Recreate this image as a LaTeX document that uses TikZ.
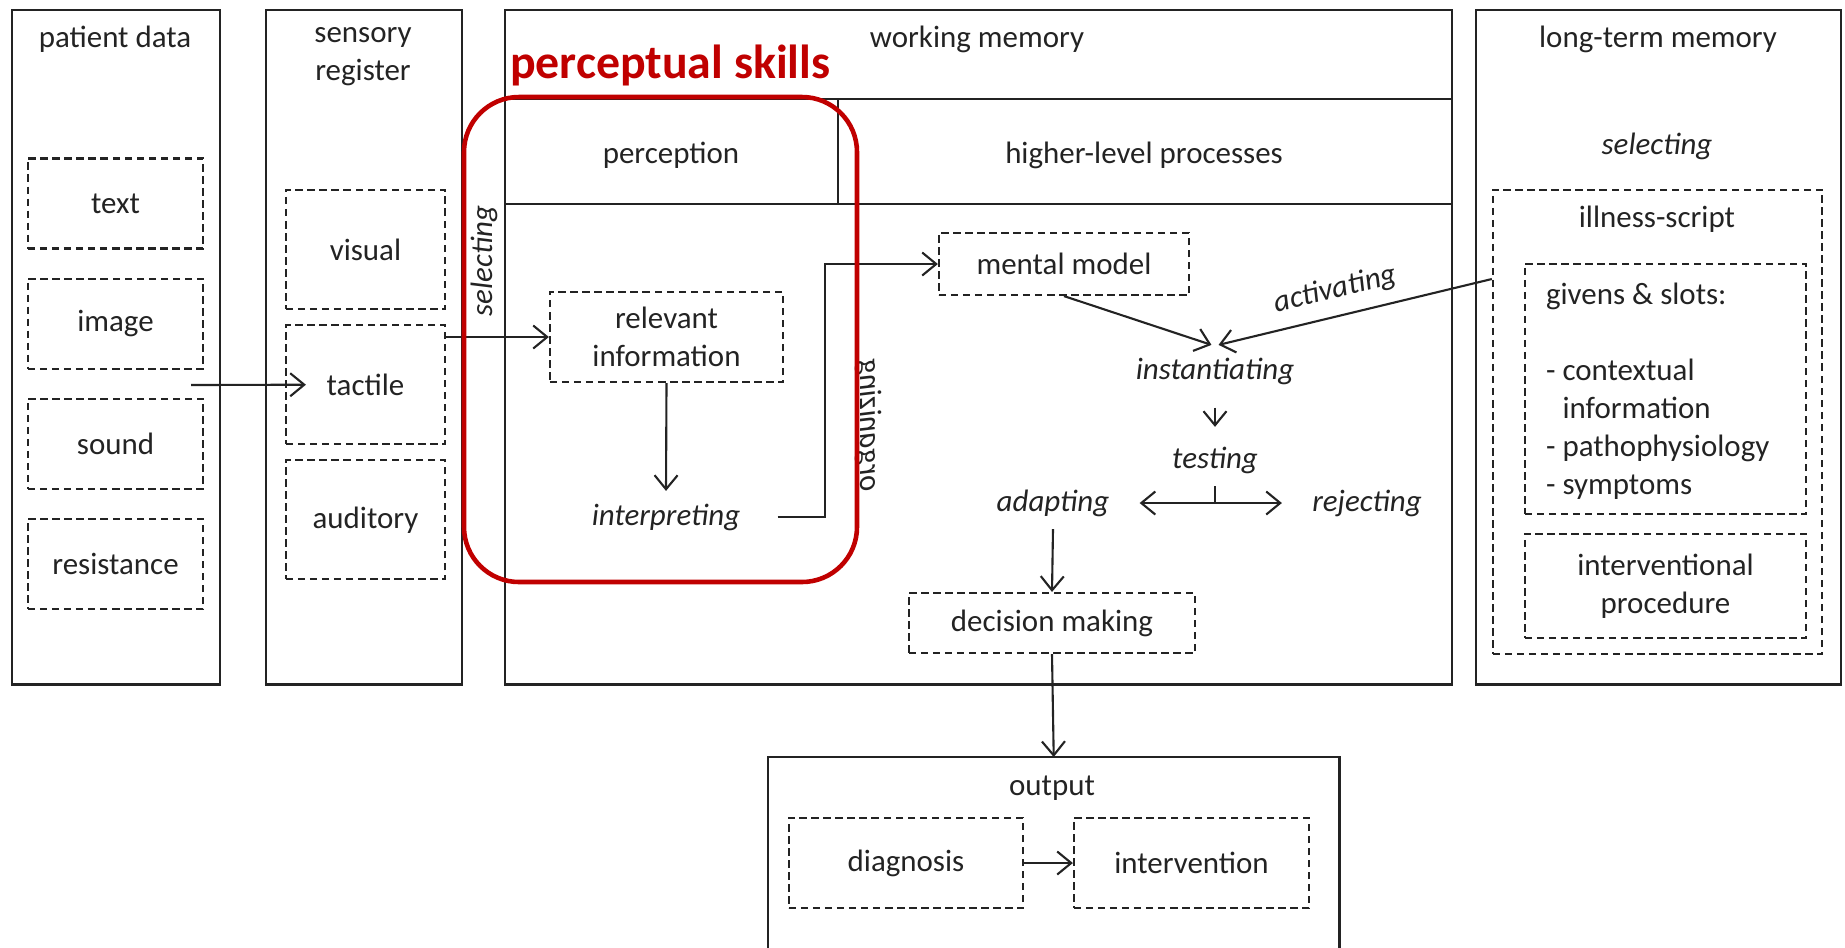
\documentclass[tikz,border=0pt]{standalone}
\usepackage{fontspec}
\setmainfont{Carlito}
\usetikzlibrary{positioning,arrows.meta}
\definecolor{ink}{RGB}{35,35,35}
\definecolor{skillred}{RGB}{192,0,0}

\begin{document}
\begin{tikzpicture}
  [x=0.01cm, y=-0.01cm, color=ink, line width=0.6pt,
    >={Straight Barb[length=1.4mm,width=2.3mm]},
    every node/.style={font=\fontsize{8.8}{10.8}\selectfont},
    panel/.style={draw, inner sep=0pt, anchor=north west, minimum height=6.74cm},
    dbox/.style={draw, dash pattern=on 0.75mm off 0.45mm, inner sep=0pt, align=center},
    pdbox/.style={dbox, minimum width=1.75cm, minimum height=0.9cm},
    srbox/.style={dbox, minimum width=1.59cm, minimum height=1.19cm},
    procword/.style={font=\fontsize{8.8}{10.8}\selectfont\itshape}]
  \useasboundingbox (0,0) rectangle (1845,947);

  \node[panel, minimum width=2.08cm] (pd) at (11,9) {};
  \node[panel, minimum width=1.96cm] (sr) at (265,9) {};
  \node[panel, minimum width=9.46cm] (wm) at (504,9) {};
  \node[panel, minimum width=3.65cm] (ltm) at (1475,9) {};

  \node (pdtitle) at (115,39) {patient data};
  \node[align=center] (srtitle) at (363,57) {sensory\\register};
  \node (wmtitle) at (977,39) {working memory};
  \node (ltmtitle) at (1658,39) {long-term memory};

  \draw (wm.west |- 0,99) -- (wm.east |- 0,99);
  \draw (wm.west |- 0,204) -- (wm.east |- 0,204);
  \draw (838,99) -- (838,204);
  \node (perc) at (671,155) {perception};
  \node (hlp) at (1144,155) {higher-level processes};

  \node[pdbox] (txt) at (115.5,203.5) {text};
  \node[pdbox, below=2.8mm of txt] (img) {image};
  \node[pdbox, below=2.8mm of img] (snd) {sound};
  \node[pdbox, below=2.8mm of snd] (res) {resistance};

  \node[srbox] (vis) at (365.5,249.5) {visual};
  \node[srbox, below=1.4mm of vis] (tac) {tactile};
  \node[srbox, below=1.4mm of tac] (aud) {auditory};

  \node[dbox, minimum width=2.33cm, minimum height=0.9cm] (rel) at (666.5,337) {relevant\\information};
  \node[procword] (interp) at (666,517) {interpreting};
  \node[dbox, minimum width=2.5cm, minimum height=0.62cm] (mm) at (1064,264) {mental model};
  \node[procword] (inst) at (1215,371) {instantiating};
  \node[procword] (test) at (1215,460) {testing};
  \node[procword] (adapt) at (1053,503) {adapting};
  \node[procword] (reject) at (1367,503) {rejecting};
  \node[dbox, minimum width=2.86cm, minimum height=0.6cm] (dec) at (1052,623) {decision making};
  \node[procword, rotate=90] (sel) at (484,261) {selecting};
  \node[procword, xscale=-1, rotate=90] (org) at (868,425) {organizing};

  \node[procword] (ltmsel) at (1657,146) {selecting};
  \node[dbox, minimum width=3.29cm, minimum height=4.64cm] (ill) at (1657.5,422) {};
  \node (illtitle) at (1657,219) {illness-script};
  \node[dbox, minimum width=2.81cm, minimum height=2.5cm] (givens) at (1665.5,389) {};
  \node[anchor=north west, align=left, inner sep=0pt] (slots) at (1545,282)
    {givens \& slots:\\[10.8pt]- contextual\\\hphantom{- }information\\- pathophysiology\\- symptoms};
  \node[dbox, minimum width=2.81cm, minimum height=1.04cm] (proc) at (1665.5,586) {interventional\\procedure};

  \node[inner sep=0pt, anchor=north west, minimum width=5.69cm, minimum height=1.9cm] (outbox) at (768,757) {};
  \draw (outbox.south west) |- (outbox.north east) -- (outbox.south east);
  \node (outtitle) at (1052,788) {output};
  \node[dbox, minimum width=2.34cm, minimum height=0.9cm] (diag) at (906,863) {diagnosis};
  \node[dbox, minimum width=2.35cm, minimum height=0.9cm] (interv) at (1191.5,863) {intervention};

  \coordinate (pdout) at (191,385);
  \coordinate (actsrc) at (ill.west |- 0,279);
  \draw[->] (pdout) -- ([xshift=2.1mm]tac.west);
  \draw[->] (tac.east |- rel.west) -- (rel.west);
  \draw[->] (rel.south) -- (interp.north);
  \draw[->] ([xshift=7pt]interp.east) -- ++(47,0) |- (mm.west);
  \draw[->] (mm.south) -- ([xshift=-1pt]inst.north);
  \draw[->] (actsrc) -- node[procword, sloped, above, pos=0.55] (actlabel) {activating} ([xshift=1pt]inst.north);
  \draw[->, shorten <=3pt, shorten >=2pt] (inst.south) -- (test.north);
  \draw (test.south) -- (test.south |- adapt.east);
  \draw[<->, shorten <=5pt, shorten >=5pt] (adapt.east) -- (reject.west);
  \draw[->] (adapt.south) -- (dec.north);
  \draw[->] (dec.south) -- (outbox.north);
  \draw[->] (diag.east) -- (interv.west);

  \node[anchor=west, inner sep=0pt, text=skillred, font=\fontsize{13.6}{16}\selectfont\bfseries] (skills) at (509,65) {perceptual skills};
  \draw[skillred, line width=1.3pt, rounded corners=0.55cm] (464,97) rectangle (857,582);
\end{tikzpicture}
\end{document}
